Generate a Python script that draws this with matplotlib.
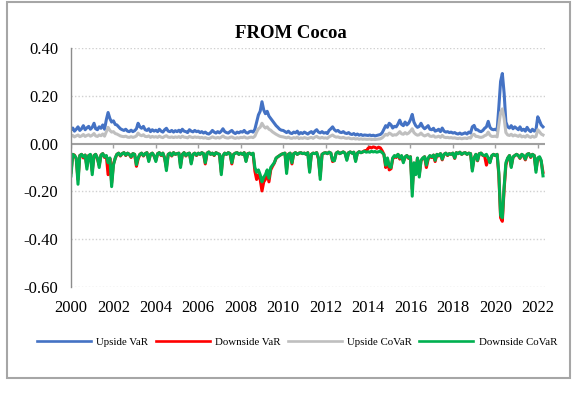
import numpy as np
import pandas as pd
import matplotlib
matplotlib.use("Agg")
import matplotlib.pyplot as plt
from matplotlib.patches import Rectangle

plt.rcParams['font.family'] = ['Liberation Serif', 'DejaVu Serif']

# monthly spillover estimates, Jan 2000 - Apr 2022 (one row per year)
upside_var = [
    0.058, 0.065, 0.052, 0.060, 0.070, 0.055, 0.062, 0.075, 0.058, 0.066, 0.072, 0.060,
    0.068, 0.085, 0.062, 0.058, 0.070, 0.064, 0.078, 0.060, 0.100, 0.130, 0.105, 0.090,
    0.095, 0.080, 0.078, 0.070, 0.062, 0.058, 0.055, 0.060, 0.052, 0.050, 0.056, 0.050,
    0.054, 0.062, 0.085, 0.070, 0.064, 0.072, 0.058, 0.055, 0.062, 0.050, 0.058, 0.052,
    0.056, 0.050, 0.060, 0.052, 0.048, 0.058, 0.064, 0.052, 0.050, 0.055, 0.048, 0.054,
    0.050, 0.056, 0.048, 0.060, 0.052, 0.050, 0.046, 0.058, 0.052, 0.049, 0.055, 0.050,
    0.052, 0.046, 0.050, 0.044, 0.048, 0.042, 0.040, 0.046, 0.055, 0.048, 0.044, 0.050,
    0.045, 0.052, 0.062, 0.050, 0.046, 0.044, 0.050, 0.055, 0.046, 0.042, 0.048, 0.045,
    0.050, 0.048, 0.055, 0.046, 0.044, 0.050, 0.052, 0.048, 0.060, 0.090, 0.120, 0.135,
    0.175, 0.140, 0.125, 0.135, 0.115, 0.105, 0.095, 0.085, 0.075, 0.068, 0.060, 0.056,
    0.055, 0.050, 0.046, 0.052, 0.044, 0.042, 0.048, 0.045, 0.052, 0.040, 0.046, 0.042,
    0.048, 0.044, 0.040, 0.046, 0.050, 0.042, 0.052, 0.058, 0.048, 0.045, 0.050, 0.044,
    0.046, 0.042, 0.055, 0.062, 0.070, 0.058, 0.052, 0.055, 0.048, 0.046, 0.050, 0.044,
    0.042, 0.046, 0.040, 0.038, 0.042, 0.036, 0.040, 0.035, 0.038, 0.034, 0.036, 0.035,
    0.034, 0.036, 0.033, 0.035, 0.032, 0.034, 0.036, 0.038, 0.045, 0.060, 0.075, 0.068,
    0.085, 0.078, 0.065, 0.072, 0.070, 0.082, 0.098, 0.080, 0.075, 0.090, 0.078, 0.085,
    0.100, 0.122, 0.090, 0.075, 0.068, 0.072, 0.085, 0.070, 0.062, 0.068, 0.075, 0.060,
    0.058, 0.064, 0.052, 0.055, 0.060, 0.050, 0.065, 0.052, 0.048, 0.050, 0.046, 0.048,
    0.044, 0.046, 0.042, 0.040, 0.044, 0.039, 0.042, 0.045, 0.040, 0.048, 0.044, 0.070,
    0.076, 0.058, 0.058, 0.052, 0.050, 0.055, 0.064, 0.070, 0.093, 0.068, 0.060, 0.058,
    0.060, 0.055, 0.150, 0.260, 0.293, 0.210, 0.090, 0.070, 0.065, 0.075, 0.062, 0.070,
    0.064, 0.058, 0.070, 0.055, 0.060, 0.052, 0.068, 0.056, 0.050, 0.060, 0.052, 0.058,
    0.112, 0.095, 0.078, 0.070,
]

downside_var = [
    -0.120, -0.045, -0.048, -0.065, -0.150, -0.050, -0.045, -0.060, -0.048, -0.095, -0.050, -0.048,
    -0.115, -0.050, -0.045, -0.065, -0.090, -0.048, -0.042, -0.058, -0.052, -0.130, -0.062, -0.165,
    -0.085, -0.062, -0.045, -0.040, -0.052, -0.042, -0.038, -0.050, -0.040, -0.045, -0.058, -0.042,
    -0.045, -0.095, -0.065, -0.045, -0.040, -0.052, -0.042, -0.038, -0.070, -0.045, -0.040, -0.052,
    -0.070, -0.042, -0.038, -0.050, -0.040, -0.062, -0.100, -0.045, -0.040, -0.052, -0.038, -0.045,
    -0.042, -0.040, -0.092, -0.045, -0.038, -0.052, -0.042, -0.040, -0.080, -0.045, -0.040, -0.050,
    -0.040, -0.045, -0.038, -0.042, -0.085, -0.040, -0.035, -0.045, -0.040, -0.050, -0.038, -0.042,
    -0.045, -0.120, -0.052, -0.040, -0.045, -0.038, -0.042, -0.085, -0.045, -0.040, -0.038, -0.045,
    -0.040, -0.045, -0.038, -0.072, -0.042, -0.040, -0.045, -0.042, -0.115, -0.150, -0.130, -0.150,
    -0.198, -0.160, -0.150, -0.120, -0.160, -0.110, -0.095, -0.082, -0.062, -0.055, -0.050, -0.045,
    -0.042, -0.040, -0.110, -0.045, -0.040, -0.085, -0.042, -0.038, -0.045, -0.040, -0.038, -0.042,
    -0.040, -0.045, -0.038, -0.110, -0.045, -0.040, -0.042, -0.038, -0.065, -0.135, -0.045, -0.040,
    -0.038, -0.042, -0.036, -0.040, -0.075, -0.070, -0.040, -0.035, -0.042, -0.038, -0.035, -0.040,
    -0.065, -0.038, -0.035, -0.040, -0.036, -0.070, -0.040, -0.034, -0.038, -0.035, -0.030, -0.032,
    -0.020, -0.015, -0.018, -0.014, -0.016, -0.020, -0.015, -0.018, -0.030, -0.045, -0.100, -0.065,
    -0.110, -0.105, -0.065, -0.052, -0.058, -0.045, -0.065, -0.052, -0.075, -0.058, -0.050, -0.062,
    -0.055, -0.190, -0.085, -0.120, -0.062, -0.130, -0.072, -0.062, -0.055, -0.100, -0.065, -0.052,
    -0.058, -0.048, -0.075, -0.045, -0.052, -0.042, -0.068, -0.045, -0.040, -0.050, -0.042, -0.045,
    -0.040, -0.062, -0.038, -0.042, -0.036, -0.045, -0.040, -0.038, -0.045, -0.040, -0.042, -0.105,
    -0.062, -0.045, -0.072, -0.042, -0.040, -0.050, -0.052, -0.090, -0.065, -0.075, -0.052, -0.045,
    -0.050, -0.045, -0.130, -0.310, -0.325, -0.190, -0.090, -0.062, -0.050, -0.095, -0.058, -0.050,
    -0.045, -0.050, -0.062, -0.045, -0.052, -0.068, -0.045, -0.042, -0.058, -0.045, -0.050, -0.110,
    -0.062, -0.058, -0.075, -0.120,
]

upside_covar = [
    0.030, 0.034, 0.028, 0.032, 0.036, 0.029, 0.032, 0.038, 0.030, 0.034, 0.037, 0.031,
    0.035, 0.042, 0.032, 0.030, 0.036, 0.033, 0.040, 0.031, 0.050, 0.068, 0.055, 0.048,
    0.050, 0.042, 0.040, 0.036, 0.032, 0.030, 0.029, 0.031, 0.027, 0.026, 0.029, 0.026,
    0.028, 0.032, 0.044, 0.036, 0.033, 0.037, 0.030, 0.029, 0.032, 0.026, 0.030, 0.027,
    0.029, 0.026, 0.031, 0.027, 0.025, 0.030, 0.033, 0.027, 0.026, 0.028, 0.025, 0.028,
    0.026, 0.029, 0.025, 0.031, 0.027, 0.026, 0.024, 0.030, 0.027, 0.025, 0.028, 0.026,
    0.027, 0.024, 0.026, 0.023, 0.025, 0.022, 0.021, 0.024, 0.028, 0.025, 0.023, 0.026,
    0.023, 0.027, 0.032, 0.026, 0.024, 0.023, 0.026, 0.028, 0.024, 0.022, 0.025, 0.023,
    0.026, 0.025, 0.028, 0.024, 0.023, 0.026, 0.027, 0.025, 0.031, 0.048, 0.062, 0.068,
    0.085, 0.072, 0.065, 0.070, 0.060, 0.056, 0.049, 0.044, 0.039, 0.035, 0.031, 0.029,
    0.028, 0.026, 0.024, 0.027, 0.023, 0.022, 0.025, 0.023, 0.027, 0.021, 0.024, 0.022,
    0.025, 0.023, 0.021, 0.024, 0.026, 0.022, 0.027, 0.030, 0.025, 0.023, 0.026, 0.023,
    0.024, 0.022, 0.028, 0.032, 0.036, 0.030, 0.027, 0.028, 0.025, 0.024, 0.026, 0.023,
    0.022, 0.024, 0.021, 0.020, 0.022, 0.019, 0.021, 0.018, 0.020, 0.018, 0.019, 0.018,
    0.018, 0.019, 0.017, 0.018, 0.017, 0.018, 0.019, 0.020, 0.024, 0.031, 0.039, 0.035,
    0.044, 0.040, 0.034, 0.037, 0.036, 0.042, 0.050, 0.041, 0.039, 0.046, 0.040, 0.044,
    0.052, 0.062, 0.046, 0.039, 0.035, 0.037, 0.044, 0.036, 0.032, 0.035, 0.039, 0.031,
    0.030, 0.033, 0.027, 0.028, 0.031, 0.026, 0.034, 0.027, 0.025, 0.026, 0.024, 0.025,
    0.023, 0.024, 0.022, 0.021, 0.023, 0.020, 0.022, 0.023, 0.021, 0.025, 0.023, 0.036,
    0.039, 0.030, 0.030, 0.027, 0.026, 0.028, 0.033, 0.036, 0.048, 0.035, 0.030, 0.030,
    0.031, 0.028, 0.078, 0.130, 0.145, 0.105, 0.046, 0.036, 0.034, 0.039, 0.032, 0.036,
    0.033, 0.030, 0.036, 0.028, 0.031, 0.027, 0.035, 0.029, 0.026, 0.031, 0.027, 0.030,
    0.058, 0.049, 0.040, 0.036,
]

downside_covar = [
    -0.135, -0.045, -0.050, -0.060, -0.170, -0.050, -0.045, -0.055, -0.048, -0.107, -0.050, -0.045,
    -0.130, -0.050, -0.045, -0.060, -0.100, -0.048, -0.042, -0.055, -0.050, -0.080, -0.060, -0.180,
    -0.090, -0.060, -0.045, -0.040, -0.050, -0.042, -0.038, -0.048, -0.040, -0.045, -0.055, -0.042,
    -0.045, -0.088, -0.060, -0.045, -0.040, -0.050, -0.042, -0.038, -0.075, -0.045, -0.040, -0.050,
    -0.075, -0.042, -0.038, -0.048, -0.040, -0.060, -0.113, -0.045, -0.040, -0.050, -0.038, -0.045,
    -0.042, -0.040, -0.100, -0.045, -0.038, -0.050, -0.042, -0.040, -0.085, -0.045, -0.040, -0.048,
    -0.040, -0.045, -0.038, -0.042, -0.080, -0.040, -0.035, -0.045, -0.040, -0.048, -0.038, -0.042,
    -0.045, -0.130, -0.050, -0.040, -0.045, -0.038, -0.042, -0.080, -0.045, -0.040, -0.038, -0.045,
    -0.040, -0.045, -0.038, -0.075, -0.042, -0.040, -0.045, -0.040, -0.100, -0.120, -0.110, -0.130,
    -0.160, -0.140, -0.130, -0.110, -0.145, -0.100, -0.090, -0.080, -0.060, -0.055, -0.050, -0.045,
    -0.042, -0.040, -0.125, -0.045, -0.040, -0.080, -0.042, -0.038, -0.045, -0.040, -0.038, -0.042,
    -0.040, -0.045, -0.038, -0.120, -0.045, -0.040, -0.042, -0.038, -0.060, -0.150, -0.045, -0.040,
    -0.038, -0.042, -0.036, -0.040, -0.070, -0.072, -0.040, -0.035, -0.042, -0.038, -0.035, -0.040,
    -0.070, -0.038, -0.035, -0.040, -0.036, -0.075, -0.040, -0.034, -0.038, -0.035, -0.032, -0.036,
    -0.034, -0.036, -0.032, -0.035, -0.033, -0.036, -0.034, -0.032, -0.038, -0.045, -0.090, -0.060,
    -0.095, -0.100, -0.060, -0.050, -0.055, -0.045, -0.060, -0.050, -0.080, -0.055, -0.050, -0.060,
    -0.055, -0.220, -0.080, -0.130, -0.060, -0.140, -0.070, -0.060, -0.055, -0.090, -0.060, -0.050,
    -0.055, -0.048, -0.070, -0.045, -0.050, -0.042, -0.065, -0.045, -0.040, -0.048, -0.042, -0.045,
    -0.040, -0.060, -0.038, -0.042, -0.036, -0.045, -0.040, -0.038, -0.045, -0.040, -0.042, -0.115,
    -0.060, -0.045, -0.070, -0.042, -0.040, -0.048, -0.050, -0.045, -0.060, -0.080, -0.050, -0.045,
    -0.050, -0.045, -0.120, -0.300, -0.310, -0.180, -0.080, -0.060, -0.050, -0.100, -0.055, -0.050,
    -0.045, -0.050, -0.060, -0.045, -0.050, -0.065, -0.045, -0.042, -0.055, -0.045, -0.050, -0.120,
    -0.060, -0.055, -0.070, -0.135,
]

series = [
    ("Upside VaR", upside_var, "#4472C4"),
    ("Downside VaR", downside_var, "#FF0000"),
    ("Upside CoVaR", upside_covar, "#BFBFBF"),
    ("Downside CoVaR", downside_covar, "#00B050"),
]
tick_years = list(range(2000, 2023, 2))
y_ticks = [0.40, 0.20, 0.00, -0.20, -0.40, -0.60]

fig = plt.figure(figsize=(5.77, 3.96), dpi=100)
ax = fig.add_axes([0.123, 0.275, 0.822, 0.604])

for name, vals, color in series:
    dates = pd.date_range("2000-01-01", periods=len(vals), freq="MS")
    ax.plot(dates, vals, color=color, lw=2.2, label=name, solid_joinstyle="round")

ax.set_ylim(-0.6, 0.4)
ax.set_xlim(pd.Timestamp("2000-01-01"), pd.Timestamp("2022-05-10"))
ax.set_yticks(y_ticks)
ax.yaxis.set_major_formatter(plt.FormatStrFormatter("%.2f"))
year_ticks = [pd.Timestamp(f"{y}-01-01") for y in tick_years]
ax.set_xticks(year_ticks)
ax.set_xticklabels([str(y) for y in tick_years])
ax.tick_params(axis="y", length=0, pad=9, labelsize=12)
ax.tick_params(axis="x", length=0, pad=9, labelsize=12)
for s in ["top", "right", "bottom"]:
    ax.spines[s].set_visible(False)
ax.spines["left"].set_color("#8c8c8c")
ax.spines["left"].set_linewidth(1.0)
for yv in y_ticks:
    if yv != 0:
        ax.axhline(yv, color="#d0d0d0", lw=1.0, ls=(0, (1, 1.5)), zorder=0)

# horizontal axis crossing at zero, with short ticks hanging below it
ax.axhline(0, color="#a0a0a0", lw=1.5, zorder=1.5)
ax.vlines(year_ticks, -0.017, 0, color="#a0a0a0", lw=1.0, zorder=1.5)

fig.text(291 / 577, 1 - 33 / 396, "FROM Cocoa", ha="center", va="center",
         fontsize=13.5, fontweight="bold")

leg = fig.legend(loc="center", bbox_to_anchor=(297 / 577, 1 - 342 / 396), ncol=4,
                 frameon=False, fontsize=7.8, handlelength=5, handletextpad=0.5,
                 columnspacing=0.65)
for line in leg.get_lines():
    line.set_linewidth(1.9)

fig.patches.append(Rectangle((7 / 577, 1 - 378 / 396), 563 / 577, 376 / 396,
                             transform=fig.transFigure, fill=False,
                             edgecolor="#a6a6a6", lw=1.5))

fig.savefig("out.png", dpi=100)
